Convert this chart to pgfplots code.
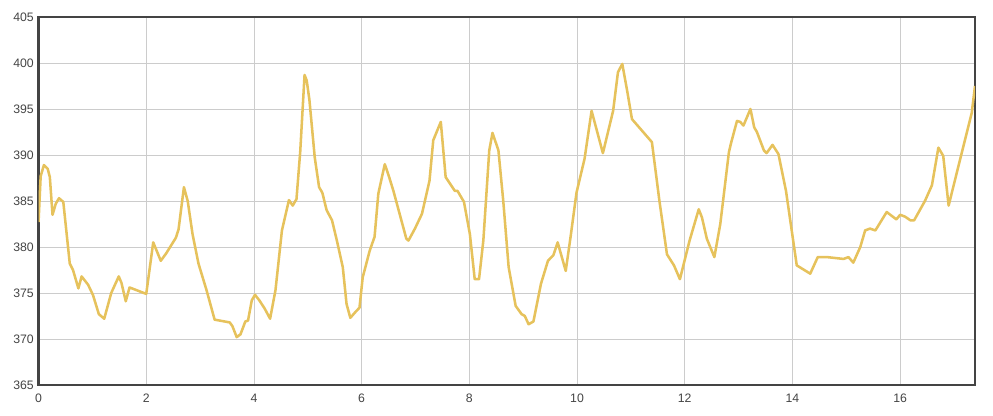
\documentclass[border=0pt]{standalone}
\usepackage{pgfplots}
\pgfplotsset{compat=1.18}
\usepackage{fontspec}
\setmainfont{Liberation Sans}
\definecolor{lineyel}{HTML}{E6C25C}
\definecolor{frame}{HTML}{444444}
\definecolor{gridc}{HTML}{CCCCCC}
\begin{document}
\begin{tikzpicture}
\begin{axis}[
  name=ax,
  scale only axis,
  width=702.4pt, height=276pt,
  xmin=0, xmax=17.39, ymin=365, ymax=405,
  xtick={0,2,...,16}, ytick={365,370,...,405},
  grid=major,
  grid style={gridc, line width=0.6pt},
  axis line style={frame, line width=1.7pt},
  major tick length=0pt,
  tick style={draw=none},
  ticklabel style={font=\fontsize{9.2}{10}\selectfont, text=frame},
  /pgf/number format/assume math mode=true,
  xticklabel style={yshift=-3.5pt},
]
\addplot[lineyel, line width=1.9pt, line join=round] coordinates {
(0,382.7) (0.04,387.7) (0.1,388.9) (0.17,388.5) (0.21,387.6) (0.26,383.5)
(0.32,384.7) (0.38,385.3) (0.46,384.9) (0.58,378.2) (0.64,377.5) (0.74,375.5)
(0.8,376.8) (0.92,375.9) (1.01,374.8) (1.12,372.7) (1.22,372.2) (1.35,375.0)
(1.42,375.9) (1.49,376.8) (1.54,376.1) (1.62,374.1) (1.69,375.6) (2.0,374.9)
(2.13,380.5) (2.27,378.5) (2.37,379.3) (2.55,381.0) (2.60,381.9) (2.70,386.5)
(2.77,385.0) (2.86,381.4) (2.97,378.2) (3.12,375.3) (3.27,372.1) (3.55,371.8)
(3.6,371.4) (3.68,370.2) (3.75,370.5) (3.84,371.9) (3.89,372.0) (3.96,374.2)
(4.02,374.8) (4.10,374.2) (4.20,373.3) (4.30,372.2) (4.40,375.3) (4.52,381.8)
(4.65,385.1) (4.72,384.5) (4.79,385.2) (4.86,390.4) (4.94,398.7) (4.98,398.1)
(5.03,396.0) (5.13,389.7) (5.21,386.5) (5.27,385.9) (5.35,384.0) (5.45,382.9)
(5.54,380.7) (5.65,377.8) (5.72,373.8) (5.79,372.3) (5.88,372.9) (5.96,373.4)
(6.02,376.7) (6.15,379.6) (6.24,381.1) (6.31,385.8) (6.43,389.0) (6.50,387.8)
(6.59,386.1) (6.83,380.9) (6.87,380.7) (6.99,382.0) (7.12,383.6) (7.26,387.2)
(7.33,391.6) (7.47,393.6) (7.56,387.6) (7.73,386.1) (7.78,386.1) (7.90,384.9)
(8.01,381.4) (8.10,376.5) (8.18,376.5) (8.26,380.7) (8.37,390.5) (8.43,392.4)
(8.54,390.5) (8.63,385.0) (8.73,377.8) (8.86,373.6) (8.97,372.7) (9.03,372.5)
(9.10,371.6) (9.19,371.9) (9.33,376.0) (9.46,378.5) (9.56,379.1) (9.64,380.5)
(9.79,377.4) (9.88,381.1) (9.99,385.9) (10.14,389.6) (10.27,394.8) (10.48,390.2)
(10.67,394.8) (10.76,399.0) (10.84,399.9) (10.93,397.0) (11.02,393.9) (11.39,391.4)
(11.53,385.0) (11.67,379.2) (11.80,378.0) (11.91,376.5) (12.09,380.7) (12.26,384.1)
(12.32,383.2) (12.41,380.9) (12.55,378.9) (12.66,382.5) (12.82,390.3) (12.86,391.3)
(12.97,393.7) (13.03,393.6) (13.09,393.2) (13.22,395.0) (13.29,393.0) (13.34,392.5)
(13.47,390.5) (13.52,390.2) (13.63,391.1) (13.74,390.1) (13.88,386.1) (14.08,378.0)
(14.33,377.1) (14.47,378.9) (14.64,378.9) (14.95,378.7) (15.04,378.9) (15.13,378.3)
(15.26,380.0) (15.35,381.8) (15.44,382.0) (15.54,381.8) (15.75,383.8) (15.93,383.0)
(16.0,383.5) (16.09,383.3) (16.19,382.9) (16.26,382.9) (16.46,385.0) (16.59,386.7)
(16.71,390.8) (16.80,389.9) (16.90,384.5) (17.33,394.6) (17.39,397.5)
};
\end{axis}
\pgfresetboundingbox
\path ([shift={(-28.9pt,-23.25pt)}]ax.south west) rectangle ([shift={(13.5pt,12.75pt)}]ax.north east);
\end{tikzpicture}
\end{document}
